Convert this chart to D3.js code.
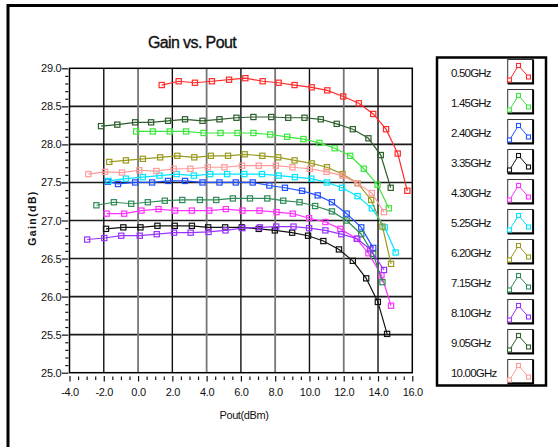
<!DOCTYPE html>
<html>
<head>
<meta charset="utf-8">
<script src="https://cdn.jsdelivr.net/npm/d3@7"></script>
<style>
  body { margin: 0; background: #fff; }
  text { font-family: "Liberation Sans", Arial, sans-serif; fill: #111; }
</style>
</head>
<body>
<script>
// legend labels, one per series
const freqs = ['0.50GHz', '1.45GHz', '2.40GHz', '3.35GHz', '4.30GHz', '5.25GHz',
               '6.20GHz', '7.15GHz', '8.10GHz', '9.05GHz', '10.00GHz'];

// Pout (dBm) / Gain (dB)
const pout050 = [1.38, 2.37, 3.32, 4.31, 5.31, 6.26, 7.27, 8.20, 9.13, 10.13, 11.04, 11.97, 12.88, 13.72, 14.47, 15.15, 15.71];
const gain050 = [28.78, 28.83, 28.81, 28.83, 28.85, 28.87, 28.83, 28.81, 28.78, 28.75, 28.71, 28.63, 28.54, 28.40, 28.20, 27.88, 27.39];

const pout145 = [-0.11, 0.86, 1.85, 2.80, 3.82, 4.81, 5.80, 6.73, 7.71, 8.70, 9.65, 10.58, 11.47, 12.38, 13.17, 13.97, 14.63];
const gain145 = [28.17, 28.17, 28.17, 28.17, 28.15, 28.15, 28.15, 28.15, 28.13, 28.10, 28.07, 28.02, 27.95, 27.85, 27.68, 27.47, 27.16];

const pout240 = [-1.76, -1.17, -0.17, 0.82, 1.75, 2.74, 3.76, 4.75, 5.70, 6.69, 7.66, 8.57, 9.57, 10.48, 11.31, 12.17, 13.02, 13.72];
const gain240 = [27.51, 27.48, 27.50, 27.50, 27.52, 27.52, 27.50, 27.50, 27.50, 27.50, 27.46, 27.43, 27.39, 27.33, 27.24, 27.09, 26.91, 26.64];

const pout335 = [-1.87, -0.86, 0.14, 1.13, 2.14, 3.14, 4.09, 5.08, 6.05, 7.04, 7.98, 8.99, 9.92, 10.81, 11.72, 12.53, 13.31, 13.99, 14.53];
const gain335 = [26.89, 26.91, 26.91, 26.93, 26.93, 26.93, 26.91, 26.91, 26.91, 26.89, 26.87, 26.84, 26.80, 26.73, 26.62, 26.47, 26.24, 25.93, 25.51];

const pout430 = [-1.83, -0.81, 0.20, 1.19, 2.16, 3.14, 4.15, 5.12, 6.09, 7.09, 8.08, 9.03, 9.98, 10.93, 11.80, 12.75, 13.44, 14.20, 14.76];
const gain430 = [27.09, 27.09, 27.13, 27.15, 27.13, 27.13, 27.13, 27.15, 27.13, 27.13, 27.11, 27.09, 27.03, 26.98, 26.89, 26.76, 26.57, 26.28, 25.88];

const pout525 = [-1.72, -0.71, 0.28, 1.25, 2.25, 3.26, 4.21, 5.20, 6.20, 7.23, 8.20, 9.15, 10.11, 11.02, 11.90, 12.81, 13.64, 14.39, 15.03];
const gain525 = [27.52, 27.55, 27.57, 27.59, 27.61, 27.59, 27.61, 27.61, 27.61, 27.61, 27.59, 27.57, 27.55, 27.50, 27.43, 27.32, 27.16, 26.91, 26.58];

const pout620 = [-1.68, -0.71, 0.28, 1.29, 2.29, 3.28, 4.25, 5.25, 6.22, 7.25, 8.18, 9.13, 10.13, 11.02, 11.93, 12.81, 13.60, 14.26, 14.76];
const gain620 = [27.77, 27.79, 27.81, 27.83, 27.85, 27.83, 27.85, 27.85, 27.87, 27.85, 27.83, 27.79, 27.75, 27.70, 27.61, 27.49, 27.27, 26.92, 26.43];

const pout715 = [-2.43, -1.41, -0.40, 0.57, 1.56, 2.58, 3.61, 4.56, 5.53, 6.53, 7.54, 8.47, 9.42, 10.33, 11.31, 12.17, 13.02, 13.72, 14.26];
const gain715 = [27.20, 27.24, 27.22, 27.24, 27.26, 27.27, 27.27, 27.27, 27.29, 27.29, 27.29, 27.26, 27.24, 27.19, 27.12, 27.00, 26.82, 26.56, 26.19];

const pout810 = [-2.97, -1.97, -0.98, 0.10, 1.09, 2.10, 3.07, 4.11, 5.10, 6.09, 7.11, 8.06, 9.07, 9.98, 10.93, 11.86, 12.79, 13.55, 14.35];
const gain810 = [26.75, 26.77, 26.80, 26.80, 26.82, 26.84, 26.84, 26.85, 26.87, 26.90, 26.91, 26.92, 26.92, 26.90, 26.87, 26.82, 26.76, 26.62, 26.35];

const pout905 = [-2.16, -1.21, -0.17, 0.76, 1.75, 2.74, 3.76, 4.75, 5.74, 6.73, 7.77, 8.76, 9.71, 10.66, 11.59, 12.53, 13.44, 14.16, 14.74];
const gain905 = [28.24, 28.26, 28.29, 28.29, 28.31, 28.33, 28.31, 28.33, 28.35, 28.36, 28.36, 28.35, 28.35, 28.33, 28.27, 28.20, 28.08, 27.86, 27.43];

const pout1000 = [-2.90, -1.93, -0.94, 0.07, 1.07, 2.08, 3.05, 4.07, 5.04, 6.07, 7.04, 8.04, 9.01, 10.02, 11.00, 11.93, 12.79, 13.64, 14.35];
const gain1000 = [27.61, 27.64, 27.63, 27.66, 27.65, 27.68, 27.68, 27.70, 27.70, 27.72, 27.72, 27.72, 27.70, 27.68, 27.64, 27.59, 27.49, 27.36, 27.11];

// axis ticks
const xTicks = [-4, -2, 0, 2, 4, 6, 8, 10, 12, 14, 16];
const yTicks = [25.0, 25.5, 26.0, 26.5, 27.0, 27.5, 28.0, 28.5, 29.0];

const pouts = [pout050, pout145, pout240, pout335, pout430, pout525, pout620, pout715, pout810, pout905, pout1000];
const gains = [gain050, gain145, gain240, gain335, gain430, gain525, gain620, gain715, gain810, gain905, gain1000];
const colors = ['#ff2a2a', '#3ce63c', '#2050ff', '#111111', '#ff33ff', '#00e5ff',
                '#9a9a1e', '#2e8b57', '#9933ff', '#2d5e2d', '#ff9a9a'];

const series = freqs.map((f, i) => ({
  name: f,
  color: colors[i],
  points: pouts[i].map((p, j) => [p, gains[i][j]])
}));

const svg = d3.select('body').append('svg')
  .attr('width', 558)
  .attr('height', 447);

svg.append('rect').attr('width', 558).attr('height', 447).attr('fill', '#fff');

// outer frame
svg.append('path')
  .attr('d', 'M8,447V5.5H558')
  .attr('fill', 'none')
  .attr('stroke', '#000')
  .attr('stroke-width', 3);

const x = d3.scaleLinear().domain([-4, 16]).range([69.5, 412.3]);
const y = d3.scaleLinear().domain([25, 29]).range([372.7, 68.3]);

svg.append('text')
  .attr('x', 192).attr('y', 48)
  .attr('text-anchor', 'middle')
  .style('font-size', '16px')
  .style('letter-spacing', '-0.6px')
  .attr('stroke', '#111')
  .attr('stroke-width', 0.35)
  .text('Gain vs. Pout');

// grid
svg.append('g').selectAll('line')
  .data(yTicks.slice(1, -1))
  .enter().append('line')
  .attr('x1', x(-4)).attr('x2', x(16))
  .attr('y1', d => y(d)).attr('y2', d => y(d))
  .attr('stroke', '#1a1a1a')
  .attr('stroke-width', 1.6);

svg.append('g').selectAll('line')
  .data(xTicks.slice(1, -1))
  .enter().append('line')
  .attr('x1', d => x(d)).attr('x2', d => x(d))
  .attr('y1', y(29)).attr('y2', y(25))
  .attr('stroke', (d, i) => i % 2 ? '#777' : '#111')
  .attr('stroke-width', (d, i) => i % 2 ? 1.8 : 1.4);

svg.append('rect')
  .attr('x', x(-4)).attr('y', y(29))
  .attr('width', x(16) - x(-4)).attr('height', y(25) - y(29))
  .attr('fill', 'none')
  .attr('stroke', '#000')
  .attr('stroke-width', 1.5);

// y axis
const yMinor = d3.range(250, 291).map(v => v / 10).filter(v => Math.round(v * 10) % 5 !== 0);
svg.append('g')
  .attr('transform', 'translate(68.3,0)')
  .call(d3.axisLeft(y).tickValues(yMinor).tickSize(3).tickFormat(''))
  .call(g => g.select('.domain').remove());

svg.append('g')
  .attr('class', 'yaxis')
  .attr('transform', 'translate(68.3,0)')
  .call(d3.axisLeft(y).tickValues(yTicks).tickSize(6.5).tickPadding(0.5).tickFormat(d => d.toFixed(1)))
  .call(g => g.select('.domain').remove());

// x axis
const xMinor = d3.range(-8, 33).map(v => v / 2).filter(v => v % 2 !== 0);
svg.append('g')
  .attr('transform', 'translate(0,376.5)')
  .call(d3.axisBottom(x).tickValues(xMinor).tickSize(3.5).tickFormat(''))
  .call(g => g.select('.domain').remove());

svg.append('g')
  .attr('class', 'xaxis')
  .attr('transform', 'translate(0,376)')
  .call(d3.axisBottom(x).tickValues(xTicks).tickSize(5.5).tickPadding(6.5).tickFormat(d => d.toFixed(1)))
  .call(g => g.select('.domain').remove());

svg.selectAll('.xaxis text, .yaxis text')
  .attr('fill', '#111')
  .style('font-size', '11px')
  .style('font-family', '"Liberation Sans", Arial, sans-serif')
  .style('letter-spacing', '-0.3px');
svg.selectAll('.tick line').attr('stroke', '#111').attr('stroke-width', 1.2);

svg.append('text')
  .attr('x', 244).attr('y', 419)
  .attr('text-anchor', 'middle')
  .style('font-size', '11px')
  .style('letter-spacing', '-0.4px')
  .text('Pout(dBm)');

svg.append('text')
  .attr('transform', 'translate(35.5,218) rotate(-90)')
  .attr('text-anchor', 'middle')
  .style('font-size', '10.5px')
  .style('font-weight', 'bold')
  .style('letter-spacing', '1.4px')
  .text('Gain(dB)');

// series
const line = d3.line().x(d => x(d[0])).y(d => y(d[1]));

const sg = svg.append('g').selectAll('g')
  .data(series)
  .enter().append('g');

sg.append('path')
  .attr('d', d => line(d.points))
  .attr('fill', 'none')
  .attr('stroke', d => d.color)
  .attr('stroke-width', 1.2);

sg.each(function(s) {
  d3.select(this).selectAll('rect')
    .data(s.points)
    .enter().append('rect')
    .attr('x', d => x(d[0]) - 2.6)
    .attr('y', d => y(d[1]) - 2.6)
    .attr('width', 5.2)
    .attr('height', 5.2)
    .attr('fill', 'none')
    .attr('stroke', s.color)
    .attr('stroke-width', 1.2);
});

// legend
const legend = svg.append('g');
legend.append('rect')
  .attr('x', 437).attr('y', 57.5)
  .attr('width', 109).attr('height', 328)
  .attr('fill', '#fff')
  .attr('stroke', '#000')
  .attr('stroke-width', 2.5);

const items = legend.selectAll('g')
  .data(series)
  .enter().append('g')
  .attr('transform', (d, i) => `translate(0,${i * 30})`);

items.append('text')
  .attr('x', 451).attr('y', 76.5)
  .style('font-size', '11.5px')
  .style('letter-spacing', '-0.8px')
  .text(d => d.name);

items.append('rect')
  .attr('x', 507.7).attr('y', 59.5)
  .attr('width', 25).attr('height', 23.5)
  .attr('fill', '#fff')
  .attr('stroke', '#333')
  .attr('stroke-width', 1);

items.append('path')
  .attr('d', 'M533.2,59.5V83.5H507.7')
  .attr('fill', 'none')
  .attr('stroke', '#000')
  .attr('stroke-width', 1.8);

const icon = [[509.5, 80], [518.5, 65.5], [528.5, 77]];
items.append('path')
  .attr('d', d3.line()(icon))
  .attr('fill', 'none')
  .attr('stroke', d => d.color)
  .attr('stroke-width', 1);

items.each(function(s) {
  d3.select(this).selectAll('.mk')
    .data(icon)
    .enter().append('rect')
    .attr('class', 'mk')
    .attr('x', d => d[0] - 2)
    .attr('y', d => d[1] - 2)
    .attr('width', 4)
    .attr('height', 4)
    .attr('fill', '#fff')
    .attr('stroke', s.color)
    .attr('stroke-width', 1.1);
});
</script>
</body>
</html>
